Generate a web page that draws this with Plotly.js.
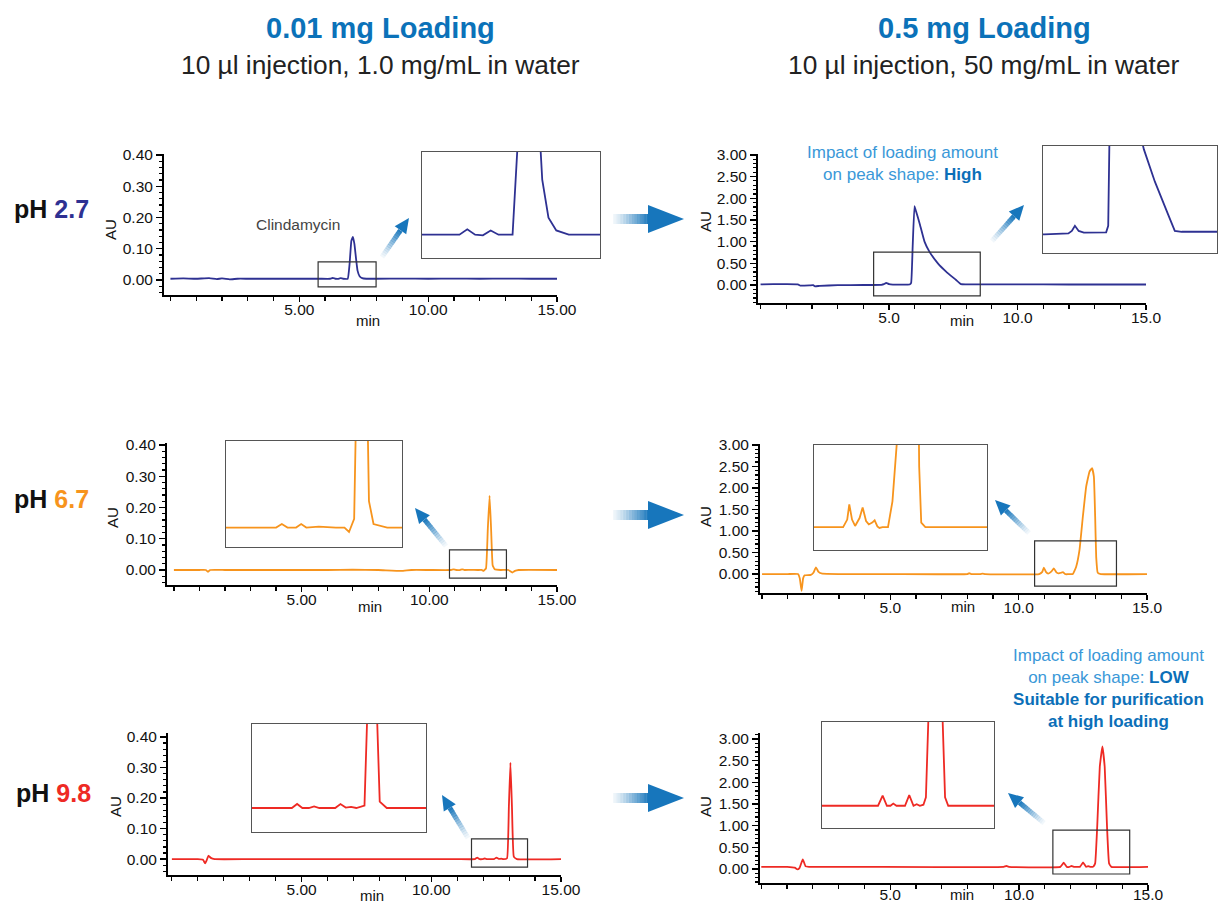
<!DOCTYPE html>
<html>
<head>
<meta charset="utf-8">
<script src="https://cdn.plot.ly/plotly-3.0.1.min.js"></script>
<style>html,body{margin:0;padding:0;background:#fff;}#chart{width:1218px;height:904px;}</style>
</head>
<body>
<div id="chart"></div>
<script>
// ---------- DATA (retention time in min, absorbance in AU) ----------
const xTickVals = [5, 10, 15];
const xTickTextLow = ["5.00", "10.00", "15.00"];
const xTickTextHigh = ["5.0", "10.0", "15.0"];

const columnTitles = ["0.01 mg Loading", "0.5 mg Loading"];
const columnSubtitles = ["10 µl injection, 1.0 mg/mL in water", "10 µl injection, 50 mg/mL in water"];
const phLabels = ["2.7", "6.7", "9.8"];

// pH 2.7, 0.01 mg
const t_pH27_low = [0,0.5,1.0,1.5,1.8,2.0,2.3,2.6,3.0,4.0,5.0,5.8,6.2,6.3,6.4,6.5,6.6,6.7,6.88,6.95,7.02,7.08,7.14,7.2,7.26,7.34,7.44,7.6,8,9,10,11,12,13,14,15];
const au_pH27_low = [0.004,0.005,0.004,0.006,0.003,0.005,0.002,0.004,0.004,0.004,0.004,0.004,0.004,0.0065,0.004,0.0037,0.006,0.004,0.004,0.05,0.125,0.138,0.115,0.07,0.03,0.012,0.006,0.004,0.004,0.0045,0.004,0.0045,0.004,0.0045,0.004,0.004];
// pH 2.7, 0.5 mg
const t_pH27_high = [0,0.5,1.0,1.45,1.55,1.9,2.05,2.12,2.3,3.0,4.0,4.7,4.8,4.89,5.0,5.15,5.8,5.86,5.92,5.99,6.05,6.19,6.38,6.57,6.9,7.22,7.61,7.8,8.0,10,12,15];
const au_pH27_high = [0.015,0.018,0.02,0.015,-0.015,-0.01,-0.005,-0.03,-0.02,-0.005,0.0,0.005,0.02,0.05,0.02,0.01,0.012,0.05,0.9,1.82,1.7,1.42,1.0,0.77,0.5,0.31,0.115,0.02,0.015,0.015,0.012,0.012];
// pH 6.7, 0.01 mg
const t_pH67_low = [0,1.0,1.25,1.34,1.42,2,4,6,7,8,8.9,9.3,10,10.85,10.95,11.05,11.2,11.29,11.38,11.6,11.9,12.05,12.13,12.22,12.29,12.36,12.42,12.48,12.56,12.8,13.1,13.25,13.35,13.5,15];
const au_pH67_low = [0,0,0,-0.006,0,0,0,0,0.001,0,-0.003,0,0,0,0.002,0,0,0.002,0,0.0005,0,0,-0.0025,0.005,0.13,0.238,0.13,0.015,0.002,0,0,-0.008,-0.003,0,0];
// pH 6.7, 0.5 mg
const t_pH67_high = [0,1.0,1.4,1.47,1.54,1.6,1.66,1.9,2.0,2.1,2.2,2.35,3,5,8.0,8.07,8.15,8.5,8.59,8.7,10.8,10.92,10.98,11.06,11.15,11.28,11.37,11.47,11.55,11.65,11.72,11.8,11.86,11.95,12.11,12.24,12.37,12.50,12.63,12.76,12.86,12.93,12.98,13.02,13.08,13.2,15];
const au_pH67_high = [0,0,0,-0.1,-0.39,-0.1,-0.03,-0.02,0.03,0.155,0.05,0.01,0,0,0,0.02,0,0,0.012,0,0,0.05,0.15,0.05,0.008,0.06,0.13,0.04,0.018,0.03,0.045,0.005,-0.005,0,0,0.17,0.56,1.33,2.03,2.38,2.46,2.26,1.33,0.40,0.03,0,0];
// pH 9.8, 0.01 mg
const t_pH98_low = [0,1.0,1.2,1.28,1.34,1.41,1.5,1.65,3,6,9,11,11.68,11.77,11.86,11.97,12.06,12.15,12.42,12.51,12.6,12.69,12.78,12.92,12.99,13.05,13.11,13.18,13.3,15];
const au_pH98_low = [0,0,-0.002,-0.014,-0.004,0.011,0.004,0,0,0,0,0,0,0.005,0,0,0.002,0,0,0.005,0.0005,0.0015,0,0.003,0.17,0.316,0.17,0.008,0,0];
// pH 9.8, 0.5 mg
const t_pH98_high = [0,1.0,1.3,1.4,1.48,1.61,1.72,1.85,4,9.4,9.51,9.6,11.6,11.73,11.85,11.95,12.03,12.12,12.36,12.48,12.6,12.69,12.78,12.88,12.95,13.03,13.13,13.23,13.32,13.41,13.49,13.58,15];
const au_pH98_high = [0.05,0.05,0.03,-0.01,0.02,0.22,0.06,0.05,0.05,0.05,0.07,0.05,0.05,0.145,0.05,0.05,0.07,0.05,0.05,0.15,0.05,0.065,0.05,0.06,0.13,0.98,2.36,2.83,2.36,0.98,0.13,0.05,0.05];

// ---------- STYLE / LAYOUT ----------
const W = 1218, H = 904;
const FONT = '"Liberation Sans", Arial, Helvetica, sans-serif';
const C27 = '#2e3192', C67 = '#f7941d', C98 = '#ee2a24';
const BLUE = '#0b6fb8', LIGHTBLUE = '#3a98d8';

const panels = [
  {t:t_pH27_low, v:au_pH27_low, color:C27, xt:xTickTextLow, so:-6,
   xpx:[164,557], ypx:[154,295], xr:[-0.25,15], yr:[-0.048,0.403], ydt:0.1, ymin:0.02,
   inset:{xpx:[422,600], ypx:[152,258], xr:[5.72,8.0], yr:[-0.007,0.043]},
   box:{x:[5.73,7.98], y:[-0.022,0.058]}, au:[110,230], mn:[368,320]},
  {t:t_pH27_high, v:au_pH27_high, color:C27, xt:xTickTextHigh, so:-6,
   xpx:[758,1146], ypx:[154,303], xr:[-0.1,15], yr:[-0.415,3.02], ydt:0.5, ymin:0.1,
   inset:{xpx:[1043,1217], ypx:[146,253], xr:[3.96,9.03], yr:[-0.11,0.52]},
   box:{x:[4.40,8.55], y:[-0.25,0.76]}, au:[705,222], mn:[962,320]},
  {t:t_pH67_low, v:au_pH67_low, color:C67, xt:xTickTextLow, so:-6,
   xpx:[167,557], ypx:[443,585], xr:[-0.27,15], yr:[-0.048,0.406], ydt:0.1, ymin:0.02,
   inset:{xpx:[226,402], ypx:[441,547], xr:[9.97,13.06], yr:[-0.011,0.049]},
   box:{x:[10.79,13.02], y:[-0.026,0.064]}, au:[112,518], mn:[370,606]},
  {t:t_pH67_high, v:au_pH67_high, color:C67, xt:xTickTextHigh, so:-6,
   xpx:[760,1147], ypx:[444,593], xr:[-0.08,15], yr:[-0.44,3.02], ydt:0.5, ymin:0.1,
   inset:{xpx:[814,987], ypx:[445,550], xr:[9.95,15.0], yr:[-0.15,0.54]},
   box:{x:[10.62,13.81], y:[-0.28,0.77]}, au:[705,517], mn:[963,606]},
  {t:t_pH98_low, v:au_pH98_low, color:C98, xt:xTickTextLow, so:-6,
   xpx:[168,561], ypx:[733,875], xr:[-0.15,15], yr:[-0.052,0.413], ydt:0.1, ymin:0.02,
   inset:{xpx:[252,426], ypx:[724,832], xr:[11.0,13.97], yr:[-0.03,0.105]},
   box:{x:[11.55,13.71], y:[-0.026,0.066]}, au:[115,807], mn:[372,895]},
  {t:t_pH98_high, v:au_pH98_high, color:C98, xt:xTickTextHigh, so:-9,
   xpx:[760,1148], ypx:[733,883], xr:[-0.05,15], yr:[-0.323,3.14], ydt:0.5, ymin:0.1,
   inset:{xpx:[822,994], ypx:[722,828], xr:[10.02,14.87], yr:[-0.16,0.84]},
   box:{x:[11.31,14.29], y:[-0.115,0.90]}, au:[705,807], mn:[962,894]}
];

const PX = x => x / W;
const PY = y => 1 - y / H;

const traces = [];
const layout = {
  width: W, height: H, margin: {l:0, r:0, t:0, b:0},
  paper_bgcolor: '#ffffff', plot_bgcolor: 'rgba(0,0,0,0)',
  showlegend: false, font: {family: FONT, color: '#111'},
  shapes: [], annotations: []
};

panels.forEach((p, i) => {
  const mi = i + 1, ii = i + 7;
  const sx = n => (n === 1 ? '' : String(n));
  traces.push({x:p.t, y:p.v, type:'scatter', mode:'lines', xaxis:'x'+sx(mi), yaxis:'y'+sx(mi),
    line:{color:p.color, width:1.8, shape:'spline', smoothing:0.3}, hoverinfo:'skip'});
  traces.push({x:p.t, y:p.v, type:'scatter', mode:'lines', xaxis:'x'+sx(ii), yaxis:'y'+sx(ii),
    line:{color:p.color, width:1.8, shape:'linear', simplify:false}, hoverinfo:'skip'});

  layout['xaxis'+sx(mi)] = {
    domain:[PX(p.xpx[0]), PX(p.xpx[1])], range:p.xr, anchor:'y'+sx(mi),
    showline:true, linecolor:'#000', linewidth:2, showgrid:false, zeroline:false,
    ticks:'outside', ticklen:5, tickwidth:1.3, tickcolor:'#000',
    tickmode:'array', tickvals:xTickVals, ticktext:p.xt, ticklabelstandoff:p.so,
    tickfont:{size:15.5, color:'#111', family:FONT},
    minor:{tickmode:'linear', tick0:0, dtick:1, ticks:'outside', ticklen:4, tickwidth:1.2, tickcolor:'#000', showgrid:false},
    fixedrange:true
  };
  layout['yaxis'+sx(mi)] = {
    domain:[PY(p.ypx[1]), PY(p.ypx[0])], range:p.yr, anchor:'x'+sx(mi),
    showline:true, linecolor:'#000', linewidth:2, showgrid:false, zeroline:false,
    ticks:'outside', ticklen:6, tickwidth:1.3, tickcolor:'#000',
    tickmode:'linear', tick0:0, dtick:p.ydt, tickformat:'.2f',
    tickfont:{size:15.5, color:'#111', family:FONT},
    minor:{tickmode:'linear', tick0:0, dtick:p.ymin, ticks:'outside', ticklen:3, tickwidth:1.2, tickcolor:'#000', showgrid:false},
    fixedrange:true
  };
  layout['xaxis'+sx(ii)] = {
    domain:[PX(p.inset.xpx[0]), PX(p.inset.xpx[1])], range:p.inset.xr, anchor:'y'+sx(ii),
    showline:true, mirror:true, linecolor:'#555', linewidth:1.4, showgrid:false, zeroline:false,
    showticklabels:false, ticks:'', fixedrange:true, layer:'below traces'
  };
  layout['yaxis'+sx(ii)] = {
    domain:[PY(p.inset.ypx[1]), PY(p.inset.ypx[0])], range:p.inset.yr, anchor:'x'+sx(ii),
    showline:true, mirror:true, linecolor:'#555', linewidth:1.4, showgrid:false, zeroline:false,
    showticklabels:false, ticks:'', fixedrange:true, layer:'below traces'
  };
  layout.shapes.push({type:'rect', xref:'x'+sx(mi), yref:'y'+sx(mi),
    x0:p.box.x[0], x1:p.box.x[1], y0:p.box.y[0], y1:p.box.y[1],
    line:{color:'#333', width:1.2}, fillcolor:'rgba(0,0,0,0)'});
  layout.annotations.push({xref:'paper', yref:'paper', x:PX(p.au[0]), y:PY(p.au[1]), text:'AU',
    textangle:-90, showarrow:false, xanchor:'center', yanchor:'middle', font:{size:15, color:'#111', family:FONT}});
  layout.annotations.push({xref:'paper', yref:'paper', x:PX(p.mn[0]), y:PY(p.mn[1]), text:'min',
    showarrow:false, xanchor:'center', yanchor:'middle', font:{size:15, color:'#111', family:FONT}});
});

// column headers
[[380, columnTitles[0], columnSubtitles[0]], [984, columnTitles[1], columnSubtitles[1]]].forEach(h => {
  layout.annotations.push({xref:'paper', yref:'paper', x:PX(h[0]), y:PY(28), text:'<b>'+h[1]+'</b>',
    showarrow:false, xanchor:'center', yanchor:'middle', font:{size:29, color:'#0b72b9', family:FONT}});
  layout.annotations.push({xref:'paper', yref:'paper', x:PX(h[0]), y:PY(65), text:h[2],
    showarrow:false, xanchor:'center', yanchor:'middle', font:{size:26.3, color:'#222', family:FONT}});
});

// pH row labels
[[51, 209, phLabels[0], C27], [51, 499, phLabels[1], C67], [53, 793, phLabels[2], C98]].forEach(r => {
  layout.annotations.push({xref:'paper', yref:'paper', x:PX(r[0]), y:PY(r[1]),
    text:'<b>pH <span style="color:'+r[3]+'">'+r[2]+'</span></b>',
    showarrow:false, xanchor:'center', yanchor:'middle', font:{size:25, color:'#111', family:FONT}});
});

// text callouts
layout.annotations.push({xref:'paper', yref:'paper', x:PX(298), y:PY(225), text:'Clindamycin',
  showarrow:false, xanchor:'center', yanchor:'middle', font:{size:15.5, color:'#444', family:FONT}});
layout.annotations.push({xref:'paper', yref:'paper', x:PX(902), y:PY(164),
  text:'Impact of loading amount<br>on peak shape: <b><span style="color:'+BLUE+'">High</span></b>',
  showarrow:false, xanchor:'center', yanchor:'middle', align:'center', font:{size:17, color:LIGHTBLUE, family:FONT}});
layout.annotations.push({xref:'paper', yref:'paper', x:PX(1108), y:PY(688),
  text:'Impact of loading amount<br>on peak shape: <b><span style="color:'+BLUE+'">LOW</span></b><br><b><span style="color:'+BLUE+'">Suitable for purification</span></b><br><b><span style="color:'+BLUE+'">at high loading</span></b>',
  showarrow:false, xanchor:'center', yanchor:'middle', align:'center', font:{size:17, color:LIGHTBLUE, family:FONT}});

// gradient arrows built from segments of increasing opacity
function gradArrow(x0, y0, x1, y1, sw, hl, hw, N) {
  const L = Math.hypot(x1 - x0, y1 - y0);
  const ux = (x1 - x0) / L, uy = (y1 - y0) / L;
  const bx = x1 - ux * hl, by = y1 - uy * hl;
  for (let k = 0; k < N; k++) {
    const a = k / N, b = Math.min(1, (k + 1.15) / N);
    const op = 0.04 + 0.9 * Math.pow((k + 0.5) / N, 1.3);
    layout.shapes.push({type:'line', xref:'paper', yref:'paper',
      x0:PX(x0 + (bx - x0) * a), y0:PY(y0 + (by - y0) * a),
      x1:PX(x0 + (bx - x0) * b), y1:PY(y0 + (by - y0) * b),
      line:{color:BLUE, width:sw}, opacity:op, layer:'above'});
  }
  const nx = -uy, ny = ux;
  const p1 = [bx + nx * hw / 2, by + ny * hw / 2], p2 = [bx - nx * hw / 2, by - ny * hw / 2];
  layout.shapes.push({type:'path', xref:'paper', yref:'paper',
    path:'M '+PX(x1)+' '+PY(y1)+' L '+PX(p1[0])+' '+PY(p1[1])+' L '+PX(p2[0])+' '+PY(p2[1])+' Z',
    fillcolor:BLUE, line:{width:0}, opacity:0.95, layer:'above'});
}
gradArrow(613, 219, 684, 219, 10, 36, 28, 24);
gradArrow(613, 515, 684, 515, 10, 36, 28, 24);
gradArrow(613, 798, 684, 798, 10, 36, 28, 24);
gradArrow(382, 257, 409, 218, 5, 15, 14, 14);
gradArrow(992, 241, 1024, 205, 5, 15, 14, 14);
gradArrow(446, 546, 415, 508, 5, 15, 14, 14);
gradArrow(1029, 533, 995, 500, 5, 15, 14, 14);
gradArrow(468, 838, 442, 795, 5, 15, 14, 14);
gradArrow(1044, 823, 1008, 793, 5, 15, 14, 14);

Plotly.newPlot('chart', traces, layout, {displayModeBar:false, staticPlot:true});
</script>
</body>
</html>
